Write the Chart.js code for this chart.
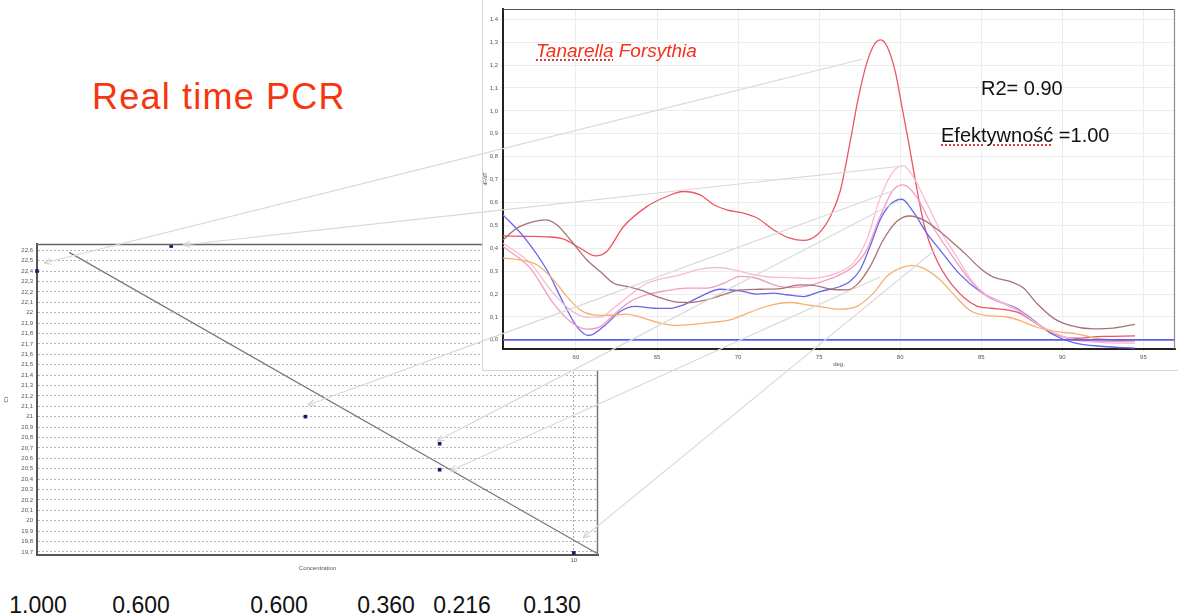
<!DOCTYPE html>
<html>
<head>
<meta charset="utf-8">
<script src="https://cdn.jsdelivr.net/npm/chart.js@4.4.1/dist/chart.umd.min.js"></script>
<style>
  html, body { margin: 0; padding: 0; background: #fff; }
  body { width: 1178px; height: 616px; position: relative; overflow: hidden;
         font-family: 'Liberation Sans', Arial, Helvetica, sans-serif; }
  #ctWrap { position: absolute; left: 0; top: 236px; width: 610px; height: 340px; z-index: 1; }
  #meltWrap { position: absolute; left: 482px; top: 0; width: 695px; height: 370px;
              border-left: 1px solid #d6d6d6; border-bottom: 1px solid #d6d6d6;
              background: #fff; z-index: 2; }
  .txt { position: absolute; white-space: nowrap; z-index: 3; }
  #title { left: 92px; top: 79px; font-size: 36px; line-height: 36px; color: #f5370f; letter-spacing: 1.2px; }
  #species { left: 536px; top: 41px; font-size: 19px; line-height: 19px; color: #f2301c; font-style: italic; }
  #r2 { left: 981px; top: 78px; font-size: 20px; line-height: 20px; color: #111; }
  #eff { left: 941px; top: 125px; font-size: 20px; line-height: 20px; color: #111; }
  .spell { text-decoration: underline dotted #e03a3a; text-underline-offset: 2px; text-decoration-thickness: 1.5px; }
  .conc { position: absolute; top: 594px; font-size: 23px; line-height: 23px; color: #111;
          transform: translateX(-50%); z-index: 3; }
  #callouts { position: absolute; left: 0; top: 0; z-index: 4; pointer-events: none; }
</style>
</head>
<body>
<div id="ctWrap"><canvas id="ctChart" width="610" height="340"></canvas></div>
<div id="meltWrap"><canvas id="meltChart" width="695" height="370"></canvas></div>

<div class="txt" id="title">Real time PCR</div>
<div class="txt" id="species"><span class="spell">Tanarella</span> Forsythia</div>
<div class="txt" id="r2">R2= 0.90</div>
<div class="txt" id="eff"><span class="spell">Efektywność</span> =1.00</div>
<div id="concRow"></div>

<svg id="callouts" width="1178" height="616" xmlns="http://www.w3.org/2000/svg">
  <defs>
    <marker id="tip" markerWidth="8" markerHeight="8" refX="0" refY="4" orient="auto" markerUnits="userSpaceOnUse">
      <path d="M7,1 L0,4 L7,7" fill="none" stroke="#d2d2d2" stroke-width="1.2"/>
    </marker>
  </defs>
  <g id="calloutLines" stroke="#dadada" stroke-width="1.2" fill="none"></g>
</svg>

<script>
// ---- Standard curve (Ct vs dilution step) ----
const dilutionStep = [0, 1, 2, 3, 3, 4];
const ctValues     = [22.40, 22.64, 21.00, 20.74, 20.49, 19.69];
const fitStep      = [0.24, 4.18];
const fitCt        = [22.58, 19.68];
const stepTicks    = [4];
const stepTickText = ['10'];

// ---- Concentrations written under the standard curve ----
const concLabels = ['1.000', '0.600', '0.600', '0.360', '0.216', '0.130'];
const concLabelX = [38, 141, 279, 386, 462, 552];

// ---- Melt curves: [temperature °C, dF/dT] ----
const meltRed = [[55.5,0.454],[57,0.452],[58.2,0.450],[59.24,0.44],[60.27,0.40],[61.19,0.367],[61.9,0.386],
  [62.94,0.495],[64.37,0.582],[65.6,0.626],[66.6,0.648],[67.66,0.633],[68.5,0.59],[69.3,0.568],[70.35,0.553],
  [71.2,0.531],[72.2,0.48],[73.2,0.444],[74.03,0.434],[74.9,0.46],[75.7,0.54],[76.3,0.65],[76.9,0.86],
  [77.4,1.05],[77.9,1.2],[78.4,1.29],[78.8,1.31],[79.2,1.28],[79.7,1.17],[80.1,1.02],[80.5,0.87],[81.0,0.67],
  [81.5,0.495],[82.15,0.364],[83.2,0.24],[84.7,0.148],[85.6,0.138],[86.57,0.131],[87.4,0.116],[88.2,0.08],
  [89.4,0.029],[90.68,0.007],[92.5,0.015],[94.48,0.017]];
const meltBlue = [[55.5,0.546],[56.77,0.451],[58.2,0.306],[59.24,0.16],[60.06,0.058],[60.78,0.019],[61.7,0.058],
  [62.73,0.124],[63.66,0.146],[64.79,0.138],[65.71,0.137],[66.64,0.153],[67.66,0.189],[68.9,0.221],[70.13,0.214],
  [71.16,0.20],[72.19,0.204],[73.0,0.197],[74.03,0.189],[75.06,0.211],[76.3,0.233],[76.9,0.255],[77.53,0.306],
  [78.14,0.408],[78.76,0.524],[79.37,0.59],[80.1,0.614],[80.8,0.56],[81.64,0.466],[82.45,0.393],[83.7,0.285],
  [84.93,0.211],[86.16,0.167],[87.19,0.138],[88.2,0.087],[89.45,0.022],[90.68,-0.012],[92.53,-0.029],[94.48,-0.036]];
const meltBrown = [[55.5,0.437],[56.36,0.488],[57.18,0.512],[58.1,0.524],[58.83,0.502],[59.65,0.437],[60.68,0.349],
  [61.5,0.298],[62.32,0.247],[63.14,0.233],[63.96,0.218],[64.99,0.189],[66.02,0.167],[67.05,0.163],[68.07,0.175],
  [69.1,0.197],[70.13,0.218],[71.36,0.221],[72.6,0.224],[73.83,0.24],[74.65,0.238],[75.67,0.222],[76.7,0.218],
  [77.32,0.24],[78.14,0.32],[78.96,0.437],[79.78,0.517],[80.6,0.541],[81.43,0.524],[82.45,0.473],[83.4,0.415],
  [84.1,0.37],[84.93,0.313],[85.75,0.274],[86.77,0.255],[87.6,0.226],[88.42,0.16],[89.45,0.095],[90.47,0.063],
  [91.9,0.048],[93.14,0.051],[94.48,0.068]];
const meltOrange = [[55.5,0.357],[56.57,0.349],[57.6,0.328],[58.62,0.262],[59.44,0.189],[60.27,0.131],[61.09,0.109],
  [61.9,0.107],[63.14,0.112],[64.17,0.095],[65.2,0.073],[66.23,0.063],[67.26,0.068],[68.5,0.077],[69.5,0.087],
  [70.35,0.109],[71.38,0.138],[72.4,0.157],[73.2,0.163],[74.24,0.153],[75.06,0.145],[76.3,0.134],[77.32,0.146],
  [78.35,0.204],[79.17,0.277],[80.0,0.313],[80.72,0.325],[81.43,0.313],[82.45,0.262],[83.4,0.19],[84.31,0.128],
  [85.34,0.106],[86.37,0.102],[87.4,0.084],[88.42,0.055],[89.65,0.036],[90.88,0.026],[92.1,0.007],[94.48,-0.007]];
const meltPinkLight = [[55.5,0.422],[57.18,0.335],[58.6,0.204],[59.65,0.131],[60.68,0.099],[61.5,0.099],[62.32,0.138],
  [63.35,0.197],[64.37,0.247],[65.2,0.265],[66.43,0.284],[67.66,0.309],[68.7,0.316],[69.72,0.306],[70.75,0.288],
  [71.98,0.274],[73.2,0.272],[74.44,0.268],[75.3,0.275],[76.3,0.298],[77.1,0.335],[77.94,0.437],[78.76,0.619],
  [79.57,0.735],[80.2,0.76],[80.8,0.713],[81.64,0.597],[82.45,0.48],[83.48,0.364],[84.4,0.26],[85.34,0.195],
  [86.57,0.155],[87.4,0.125],[88.42,0.073],[89.45,0.032],[90.68,0.003],[92.5,-0.012],[94.48,-0.015]];
const meltPink = [[55.5,0.408],[57.18,0.313],[58.6,0.16],[59.65,0.08],[60.68,0.047],[61.5,0.058],[62.32,0.109],
  [63.35,0.167],[64.37,0.197],[65.6,0.215],[66.84,0.226],[68.07,0.226],[69.1,0.247],[70.13,0.277],[71.16,0.269],
  [72.19,0.24],[73.2,0.228],[74.44,0.238],[75.3,0.258],[75.88,0.272],[77.1,0.32],[77.94,0.393],[78.76,0.539],
  [79.57,0.655],[80.2,0.677],[81.0,0.626],[82.0,0.495],[83.1,0.378],[84.2,0.27],[85.34,0.19],[86.57,0.152],
  [87.4,0.122],[88.42,0.07],[89.45,0.03],[90.68,0.0],[92.5,-0.008],[94.48,-0.007]];
const thresholdLevel = 0;

// ---- Guide lines linking standard points to melt peaks (page pixels) ----
const calloutLines = [
  [44, 263, 863, 59],
  [183, 245, 903, 166],
  [308, 405, 895, 190],
  [437, 441, 900, 200],
  [450, 471, 880, 277],
  [583, 538, 935, 250]
];

const asXY = pairs => pairs.map(p => ({ x: p[0], y: p[1] }));
const commaTick = v => {
  const r = Math.round(v * 10) / 10;
  return (Math.abs(r) < 1e-9 ? 0 : r).toFixed(1).replace('.', ',');
};
const onStep = (v, step) => Math.abs(v / step - Math.round(v / step)) < 1e-6;
// Every multiple of `step` inside the scale's range
const stepTicksInRange = (s, step) => {
  const out = [];
  for (let k = Math.ceil(s.min / step - 1e-6); k <= Math.floor(s.max / step + 1e-6); k++) {
    out.push({ value: Math.round(k * step * 1000) / 1000 });
  }
  return out;
};

// Outer box of a plot area: top and right edges (left/bottom come from the axes)
const plotFrame = {
  id: 'plotFrame',
  afterDraw(chart, args, o) {
    const { ctx, chartArea: a } = chart;
    ctx.save();
    ctx.lineWidth = o.width;
    ctx.strokeStyle = o.topColor;
    ctx.beginPath(); ctx.moveTo(a.left, a.top + 0.5); ctx.lineTo(a.right, a.top + 0.5); ctx.stroke();
    ctx.strokeStyle = o.rightColor;
    ctx.beginPath(); ctx.moveTo(a.right - 0.5, a.top); ctx.lineTo(a.right - 0.5, a.bottom); ctx.stroke();
    ctx.restore();
  }
};

// Horizontal threshold line across the melt plot
const thresholdLine = {
  id: 'thresholdLine',
  afterDatasetsDraw(chart, args, o) {
    const { ctx, chartArea: a, scales } = chart;
    const y = scales.y.getPixelForValue(o.value);
    ctx.save();
    ctx.strokeStyle = o.color; ctx.lineWidth = o.width;
    ctx.beginPath(); ctx.moveTo(a.left, y); ctx.lineTo(a.right, y); ctx.stroke();
    ctx.restore();
  }
};

// ---- Standard curve chart ----
new Chart(document.getElementById('ctChart'), {
  type: 'scatter',
  data: {
    datasets: [
      {
        type: 'line',
        data: fitStep.map((x, i) => ({ x, y: fitCt[i] })),
        borderColor: '#7a7a7a', borderWidth: 1.3, pointRadius: 0, fill: false, clip: false
      },
      {
        data: dilutionStep.map((x, i) => ({ x, y: ctValues[i] })),
        pointStyle: 'rect', pointRadius: 2.6, backgroundColor: '#1b1b6e', borderColor: '#1b1b6e',
        borderWidth: 0, clip: false
      }
    ]
  },
  options: {
    responsive: false, animation: false, devicePixelRatio: 1,
    layout: { padding: { top: 8, right: 12, left: 0, bottom: 0 } },
    plugins: { legend: { display: false }, tooltip: { enabled: false },
               plotFrame: { width: 1.5, topColor: '#666', rightColor: '#777' } },
    scales: {
      x: {
        type: 'linear', min: 0, max: 4.18,
        afterBuildTicks: s => { s.ticks = stepTicks.map(v => ({ value: v })); },
        afterFit: s => { s.height = 21; },
        ticks: { callback: (v) => stepTickText[stepTicks.indexOf(v)] || '', font: { size: 6 }, color: '#555',
                 padding: 2, maxRotation: 0, autoSkip: false },
        grid: { color: '#a8a8a8', lineWidth: 1, drawTicks: false },
        border: { display: true, color: '#555', width: 2, dash: [2, 2] },
        title: { display: true, text: 'Concentration', font: { size: 6 }, color: '#555', padding: { top: 0, bottom: 4 } }
      },
      y: {
        type: 'linear', min: 19.67, max: 22.66,
        afterBuildTicks: s => { s.ticks = stepTicksInRange(s, 0.1); },
        afterFit: s => { s.width = 37; },
        ticks: {
          autoSkip: false, font: { size: 6 }, color: '#555', padding: 4,
          callback: v => { const r = Math.round(v * 10) / 10; return Number.isInteger(r) ? String(r) : r.toFixed(1).replace('.', ','); }
        },
        grid: { color: '#b4b4b4', lineWidth: 1, drawTicks: false },
        border: { display: true, color: '#555', width: 2, dash: [2, 2] },
        title: { display: true, text: 'Ct', font: { size: 6 }, color: '#555', padding: { top: 3, bottom: 0 } }
      }
    }
  },
  plugins: [plotFrame]
});

// ---- Melt curve chart ----
const meltSeries = [
  { data: meltOrange,    color: '#f5b06e' },
  { data: meltBrown,     color: '#a87175' },
  { data: meltPinkLight, color: '#f7bad2' },
  { data: meltPink,      color: '#f29bc2' },
  { data: meltBlue,      color: '#6767ec' },
  { data: meltRed,       color: '#ee5563' }
];

new Chart(document.getElementById('meltChart'), {
  type: 'line',
  data: {
    datasets: meltSeries.map(s => ({
      data: asXY(s.data), borderColor: s.color, borderWidth: 1.3, pointRadius: 0,
      fill: false, cubicInterpolationMode: 'monotone'
    }))
  },
  options: {
    responsive: false, animation: false, devicePixelRatio: 1,
    layout: { padding: { top: 9, right: 3, left: 0, bottom: 0 } },
    plugins: { legend: { display: false }, tooltip: { enabled: false },
               plotFrame: { width: 1.2, topColor: '#555', rightColor: '#8a8a8a' },
               thresholdLine: { value: thresholdLevel, color: '#5c5cf2', width: 1.6 } },
    scales: {
      x: {
        type: 'linear', min: 55.5, max: 96.95,
        afterBuildTicks: s => { s.ticks = stepTicksInRange(s, 5); },
        afterFit: s => { s.height = 21; },
        ticks: { autoSkip: false, maxRotation: 0, font: { size: 6 }, color: '#555', padding: 2 },
        grid: { color: '#ececec', lineWidth: 1, tickLength: 3 },
        border: { display: true, color: '#222', width: 2 },
        title: { display: true, text: 'deg.', font: { size: 6 }, color: '#555', padding: { top: 0, bottom: 2 } }
      },
      y: {
        type: 'linear', min: -0.04, max: 1.445,
        afterBuildTicks: s => { s.ticks = stepTicksInRange(s, 0.1); },
        afterFit: s => { s.width = 20; },
        ticks: { autoSkip: false, font: { size: 6 }, color: '#555', padding: 2, callback: commaTick },
        grid: { color: '#ececec', lineWidth: 1, tickLength: 3 },
        border: { display: true, color: '#222', width: 2 },
        title: { display: true, text: 'dF/dT', font: { size: 5 }, color: '#555', padding: { top: 0, bottom: 0 } }
      }
    }
  },
  plugins: [plotFrame, thresholdLine]
});

// ---- Concentration row ----
const row = document.getElementById('concRow');
concLabels.forEach((t, i) => {
  const d = document.createElement('div');
  d.className = 'conc';
  d.style.left = concLabelX[i] + 'px';
  d.textContent = t;
  row.appendChild(d);
});

// ---- Guide lines ----
const g = document.getElementById('calloutLines');
calloutLines.forEach(([x1, y1, x2, y2]) => {
  const l = document.createElementNS('http://www.w3.org/2000/svg', 'line');
  l.setAttribute('x1', x1); l.setAttribute('y1', y1);
  l.setAttribute('x2', x2); l.setAttribute('y2', y2);
  l.setAttribute('marker-start', 'url(#tip)');
  g.appendChild(l);
});
</script>
</body>
</html>
